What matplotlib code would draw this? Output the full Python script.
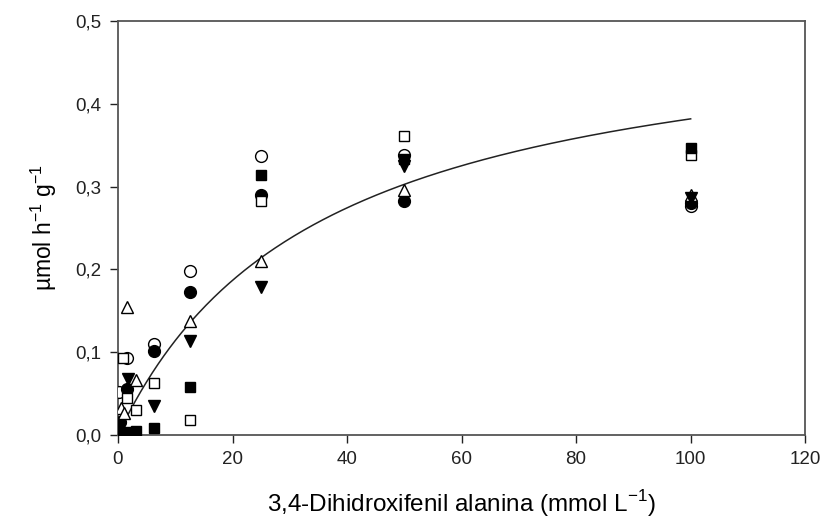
import numpy as np
import matplotlib
matplotlib.use("Agg")
import matplotlib.pyplot as plt

plt.rcParams['font.family'] = ['Liberation Sans', 'DejaVu Sans']

# Data
oc_x = [0.2, 1.6, 6.25, 12.5, 25, 50, 100]
oc_y = [0.052, 0.093, 0.110, 0.198, 0.337, 0.338, 0.277]

fc_x = [0.3, 1.6, 6.25, 12.5, 25, 50, 100]
fc_y = [0.015, 0.055, 0.101, 0.172, 0.290, 0.282, 0.280]

ot_x = [0.6, 1.0, 1.6, 3.1, 12.5, 25, 50, 100]
ot_y = [0.032, 0.026, 0.155, 0.066, 0.137, 0.210, 0.296, 0.290]

ft_x = [0.4, 1.7, 6.25, 12.5, 25, 50, 100]
ft_y = [0.008, 0.067, 0.035, 0.113, 0.178, 0.325, 0.286]

os_x = [0.2, 0.8, 1.6, 3.1, 6.25, 12.5, 25, 50, 100]
os_y = [0.002, 0.093, 0.045, 0.030, 0.063, 0.018, 0.283, 0.361, 0.338]

fs_x = [0.5, 1.6, 3.1, 6.25, 12.5, 25, 50, 100]
fs_y = [0.001, 0.003, 0.005, 0.008, 0.058, 0.314, 0.333, 0.346]

# Michaelis-Menten fit parameters
vmax = 0.517
km = 35.4

x_ticks = [0, 20, 40, 60, 80, 100, 120]
y_ticks = [0.0, 0.1, 0.2, 0.3, 0.4, 0.5]
y_tick_labels = ['0,0', '0,1', '0,2', '0,3', '0,4', '0,5']

fig = plt.figure(figsize=(8.25, 5.27), dpi=100)
ax = fig.add_axes([0.143, 0.175, 0.833, 0.785])

ms = 8.5
ax.plot(oc_x, oc_y, 'o', ms=ms, mfc='white', mec='black', mew=1.0, zorder=3)
ax.plot(fc_x, fc_y, 'o', ms=ms, mfc='black', mec='black', mew=1.0, zorder=3)
ax.plot(ot_x, ot_y, '^', ms=ms, mfc='white', mec='black', mew=1.0, zorder=3)
ax.plot(ft_x, ft_y, 'v', ms=ms, mfc='black', mec='black', mew=1.0, zorder=3)
ax.plot(os_x, os_y, 's', ms=7.5, mfc='white', mec='black', mew=1.0, zorder=3)
ax.plot(fs_x, fs_y, 's', ms=7.5, mfc='black', mec='black', mew=1.0, zorder=3)

xc = np.linspace(0, 100, 300)
ax.plot(xc, vmax * xc / (km + xc), color='#222222', lw=1.1, zorder=2)

ax.set_xlim(0, 120)
ax.set_ylim(0, 0.5)
ax.set_xticks(x_ticks)
ax.set_xticklabels([str(t) for t in x_ticks])
ax.set_yticks(y_ticks)
ax.set_yticklabels(y_tick_labels)
ax.tick_params(direction='out', length=6, width=1, labelsize=13.5, colors='#222222', pad=6)
for s in ax.spines.values():
    s.set_color('#555555')
    s.set_linewidth(1.3)

ax.set_xlabel('3,4-Dihidroxifenil alanina (mmol L$^{\\mathregular{-1}}$)', fontsize=17.5, labelpad=14)
ax.set_ylabel('µmol h$^{\\mathregular{-1}}$ g$^{\\mathregular{-1}}$', fontsize=16.5, labelpad=12)

fig.savefig('out.png', dpi=100)
